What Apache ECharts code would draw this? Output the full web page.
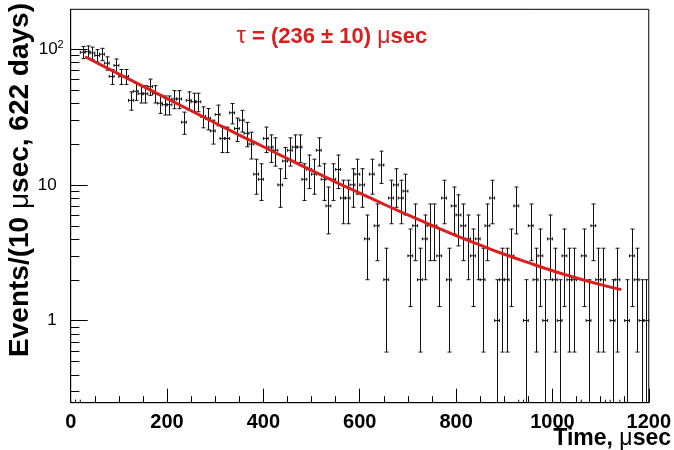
<!DOCTYPE html>
<html><head><meta charset="utf-8">
<script src="https://cdn.jsdelivr.net/npm/echarts@6/dist/echarts.min.js"></script>
<style>html,body{margin:0;padding:0;background:#fff}#c{width:674px;height:450px}</style>
</head><body><div id="c"></div>
<script>
// Histogram: bin centers (μsec, 10 μsec bins) and counts
const binCenters = [5,15,25,35,45,55,65,75,85,95,105,115,125,135,145,155,165,175,185,195,
  205,215,225,235,245,255,265,275,285,295,305,315,325,335,345,355,365,375,385,395,
  405,415,425,435,445,455,465,475,485,495,505,515,525,535,545,555,565,575,585,595,
  605,615,625,635,645,655,665,675,685,695,705,715,725,735,745,755,765,775,785,795,
  805,815,825,835,845,855,865,875,885,895,905,915,925,935,945,955,965,975,985,995,
  1005,1015,1025,1035,1045,1055,1065,1075,1085,1095,1105,1115,1125,1135,1145,1155,1165,1175,1185,1195];
const counts = [0,0,95,96,94,90,92,79,63,76,63,63,42,49,47,47,53,47,40,39,
  39,43,43,29,42,41,41,32,31,25,33,22,22,34,26,30,24,20,12,11,
  22,19,18,10,15,18,19,19,11,13,12,18,11,7,11,13,8,8,10,12,
  10,4,12,5,14,2,8,10,8,9,3,5,2,4,5,5,3,8,2,7,
  6,5,4,3,4,2,5,8,1,2,2,3,7,0,1,5,2,3,1,4,
  2,1,3,2,2,0,3,1,5,2,2,0,1,2,0,1,3,2,1,1];
const binHalfWidth = 5;
// Fit curve
const fitTimes  = [30,50,100,150,200,250,300,350,400,450,500,550,600,650,700,750,800,850,900,950,1000,1050,1100,1143];
const fitValues = [88.0,80.9,65.6,53.3,43.3,35.2,28.6,23.3,19.1,15.6,12.8,10.5,8.7,7.2,6.0,5.02,4.23,3.60,3.08,2.67,2.33,2.06,1.84,1.69];
// Axis ticks
const yMinorTicks = [0.3,0.4,0.5,0.6,0.7,0.8,0.9,2,3,4,5,6,7,8,9,20,30,40,50,60,70,80,90];
const Y_MIN = 0.248, Y_MAX = 197;
const FONT = 'Liberation Sans';
const RED = '#d9201f';

const errData = [], zeroData = [];
for (let i = 0; i < binCenters.length; i++) {
  if (counts[i] > 0) errData.push([binCenters[i], counts[i]]);
  else zeroData.push([binCenters[i], Y_MIN]);
}

function seg(x1, y1, x2, y2) {
  return {type: 'line', shape: {x1, y1, x2, y2}, style: {stroke: '#111', lineWidth: 1}};
}

function renderErr(params, api) {
  const t = api.value(0), n = api.value(1);
  const cs = params.coordSys;
  const bottom = cs.y + cs.height;
  const e = Math.sqrt(n);
  const c = api.coord([t, n]);
  const up = api.coord([t, Math.min(n + e, Y_MAX)]);
  const lo = n - e;
  const loY = lo > Y_MIN ? api.coord([t, lo])[1] : bottom;
  const xl = api.coord([t - binHalfWidth, n])[0];
  const xr = api.coord([t + binHalfWidth, n])[0];
  const x = Math.round(c[0]) + 0.5;
  const ch = [];
  ch.push(seg(x, up[1], x, loY));
  ch.push(seg(x - 2, up[1], x + 2, up[1]));
  if (lo > Y_MIN) ch.push(seg(x - 2, loY, x + 2, loY));
  ch.push(seg(xl, c[1], xr, c[1]));
  ch.push(seg(xl, c[1] - 1.5, xl, c[1] + 1.5));
  ch.push(seg(xr, c[1] - 1.5, xr, c[1] + 1.5));
  return {type: 'group', children: ch};
}

function renderZero(params, api) {
  const t = api.value(0);
  const cs = params.coordSys;
  const bottom = cs.y + cs.height;
  const xl = api.coord([t - binHalfWidth, Y_MIN])[0];
  const xr = api.coord([t + binHalfWidth, Y_MIN])[0];
  return {type: 'group', children: [seg(xl, bottom, xl, bottom - 3), seg(xr, bottom, xr, bottom - 3)]};
}

function renderMinor(params, api) {
  const p = api.coord([0, api.value(1)]);
  const y = Math.round(p[1]) + 0.5;
  return {type: 'line', shape: {x1: p[0], y1: y, x2: p[0] + 8.7, y2: y}, style: {stroke: '#000', lineWidth: 1}};
}

const chart = echarts.init(document.getElementById('c'), null, {renderer: 'canvas'});
chart.setOption({
  animation: false,
  backgroundColor: '#fff',
  grid: {left: 70.7, right: 23.3, top: 9.3, bottom: 47.3, show: true, borderColor: '#000', borderWidth: 1},
  xAxis: {
    type: 'value', min: 0, max: 1200, interval: 200,
    axisLine: {show: true, lineStyle: {color: '#000', width: 1}},
    axisTick: {show: true, inside: true, length: 14, lineStyle: {color: '#000'}},
    minorTick: {show: true, splitNumber: 4, length: 6.5, lineStyle: {color: '#000'}},
    splitLine: {show: false},
    axisLabel: {margin: 10, fontFamily: FONT, fontWeight: 'bold', fontSize: 20, color: '#000',
      formatter: function (v) { return String(v); }}
  },
  yAxis: {
    type: 'log', logBase: 10, min: Y_MIN, max: Y_MAX, splitNumber: 3,
    axisLine: {show: true, lineStyle: {color: '#000', width: 1}},
    axisTick: {show: true, inside: true, length: 17, lineStyle: {color: '#000'}},
    splitLine: {show: false},
    axisLabel: {
      margin: 7, showMinLabel: false, showMaxLabel: false,
      formatter: function (v) {
        if (Math.abs(v - 100) < 1e-6) return '{n|10}{s|2}';
        if (Math.abs(v - 10) < 1e-6) return '{n|10}{p|}';
        if (Math.abs(v - 1) < 1e-6) return '{n|1}{p|}';
        return '';
      },
      rich: {
        n: {fontFamily: FONT, fontSize: 17, color: '#000', lineHeight: 20},
        s: {fontFamily: FONT, fontSize: 11, color: '#000', verticalAlign: 'top', lineHeight: 20, padding: [0, 0, 12, 0]},
        p: {width: 7}
      }
    }
  },
  graphic: [
    {type: 'text', x: 20, y: 3, rotation: Math.PI / 2,
      style: {text: 'Events/(10 {m|μ}sec, 622 days)', fontFamily: FONT, fontWeight: 'bold', fontSize: 28,
        fill: '#000', align: 'right', verticalAlign: 'middle',
        rich: {m: {fontFamily: FONT, fontWeight: 'normal', fontSize: 28, fill: '#000'}}}},
    {type: 'text', x: 671, y: 439,
      style: {text: 'Time, {m|μ}sec', fontFamily: FONT, fontWeight: 'bold', fontSize: 23,
        fill: '#000', align: 'right', verticalAlign: 'middle',
        rich: {m: {fontFamily: FONT, fontWeight: 'normal', fontSize: 23, fill: '#000'}}}},
    {type: 'text', x: 332, y: 37,
      style: {text: '{m|τ} = (236 ± 10) {m|μ}sec', fontFamily: FONT, fontWeight: 'bold', fontSize: 22,
        fill: RED, align: 'center', verticalAlign: 'middle',
        rich: {m: {fontFamily: FONT, fontWeight: 'normal', fontSize: 23, fill: RED}}}}
  ],
  series: [
    {type: 'custom', name: 'minorTicks', renderItem: renderMinor, data: yMinorTicks.map(v => [0, v]), silent: true, z: 3},
    {type: 'custom', name: 'data', renderItem: renderErr, data: errData, clip: true, z: 4},
    {type: 'custom', name: 'empty', renderItem: renderZero, data: zeroData, z: 4},
    {type: 'line', name: 'fit', data: fitTimes.map((t, i) => [t, fitValues[i]]), smooth: true,
      showSymbol: false, lineStyle: {color: RED, width: 3}, z: 6}
  ]
});
</script></body></html>
